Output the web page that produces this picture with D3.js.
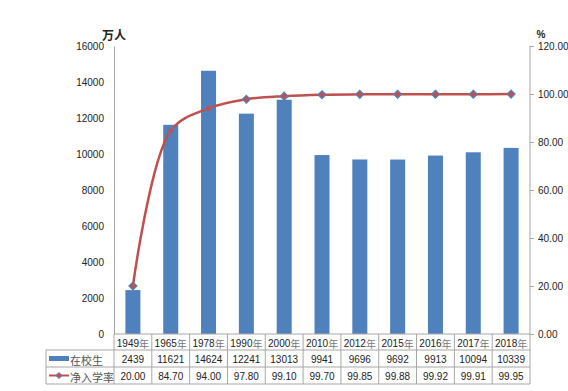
<!DOCTYPE html>
<html><head><meta charset="utf-8">
<script src="https://cdn.jsdelivr.net/npm/d3@7"></script>
<style>body{margin:0;background:#fff}svg{display:block}</style>
</head><body>
<svg id="c" width="568" height="391"></svg>
<script>
const categories = ["1949年","1965年","1978年","1990年","2000年","2010年","2012年","2015年","2016年","2017年","2018年"];
const students = [2439,11621,14624,12241,13013,9941,9696,9692,9913,10094,10339];
const rates = [20.00,84.70,94.00,97.80,99.10,99.70,99.85,99.88,99.92,99.91,99.95];
const leftTicks = [0,2000,4000,6000,8000,10000,12000,14000,16000];
const rightTicks = [0,20,40,60,80,100,120];
const seriesNames = ["在校生","净入学率"];

const svg = d3.select("#c");
const L = 114, R = 530, T = 46, B = 334;
const numFont = "'Liberation Sans', Arial, sans-serif";
const cjkFont = "'Noto Sans CJK SC', sans-serif";
const x = d3.scaleBand().domain(categories).range([L, R]).paddingInner(0).paddingOuter(0);
const yL = d3.scaleLinear().domain([0,16000]).range([B, T]);
const yR = d3.scaleLinear().domain([0,120]).range([B, T]);
const blue = "#4F81BD", red = "#C0504D", grid = "#a6a6a6";

// bars
const bw = 15;
svg.append("g").selectAll("rect").data(students).join("rect")
  .attr("x", (d,i) => x(categories[i]) + x.bandwidth()/2 - bw/2)
  .attr("y", d => yL(d)).attr("width", bw).attr("height", d => B - yL(d))
  .attr("fill", blue);

// left axis
const gl = svg.append("g").attr("transform", `translate(${L},0)`)
  .call(d3.axisLeft(yL).tickValues(leftTicks).tickSize(0).tickPadding(10).tickFormat(d3.format("d")));
gl.select(".domain").attr("stroke", grid);
gl.selectAll("text").attr("font-family", numFont).attr("font-size", 10).attr("fill", "#222");

// right axis
const gr = svg.append("g").attr("transform", `translate(${R},0)`)
  .call(d3.axisRight(yR).tickValues(rightTicks).tickSize(4).tickPadding(4).tickFormat(d3.format(".2f")));
gr.select(".domain").attr("stroke", grid).attr("d", `M0,${T}V${B}`);
gr.selectAll("line").attr("stroke", grid);
gr.selectAll("text").attr("font-family", numFont).attr("font-size", 10).attr("fill", "#222");

// units
svg.append("text").attr("x", 114).attr("y", 40).attr("text-anchor", "middle")
  .attr("font-family", cjkFont).attr("font-size", 12).attr("font-weight", "bold").attr("fill", "#222").text("万人");
svg.append("text").attr("x", 541).attr("y", 38).attr("text-anchor", "middle")
  .attr("font-family", numFont).attr("font-size", 10).attr("font-weight", "bold").attr("fill", "#222").text("%");

// line
const cx = (i) => x(categories[i]) + x.bandwidth()/2;
const line = d3.line().x((d,i) => cx(i)).y(d => yR(d)).curve(d3.curveCatmullRom.alpha(0.5));
svg.append("path").datum(rates).attr("d", line).attr("fill", "none")
  .attr("stroke", red).attr("stroke-width", 2.5);
const diamond = d3.symbol().type(d3.symbolDiamond2).size(40);
svg.append("g").selectAll("path").data(rates).join("path")
  .attr("transform", (d,i) => `translate(${cx(i)},${yR(d)})`)
  .attr("d", diamond).attr("fill", red).attr("stroke", blue).attr("stroke-width", 1.2);

// table
const rowH = [B, 350, 367, 384];
const tableLeft = 46;
const tg = svg.append("g");
tg.append("line").attr("x1", L).attr("x2", R).attr("y1", rowH[0]).attr("y2", rowH[0]).attr("stroke", grid);
for (let k = 1; k < 4; k++) {
  tg.append("line").attr("x1", tableLeft).attr("x2", R).attr("y1", rowH[k]).attr("y2", rowH[k]).attr("stroke", grid);
}
tg.append("line").attr("x1", tableLeft).attr("x2", tableLeft).attr("y1", rowH[1]).attr("y2", rowH[3]).attr("stroke", grid);
categories.forEach((c, i) => {
  tg.append("line").attr("x1", x(c)).attr("x2", x(c)).attr("y1", rowH[0]).attr("y2", rowH[3]).attr("stroke", grid);
});
tg.append("line").attr("x1", R).attr("x2", R).attr("y1", rowH[0]).attr("y2", rowH[3]).attr("stroke", grid);

const cellText = (g, xx, yy, t, font) => g.append("text").attr("x", xx).attr("y", yy)
  .attr("text-anchor", "middle").attr("dominant-baseline", "central")
  .attr("font-family", font).attr("font-size", 10).attr("fill", "#222").text(t);

categories.forEach((c, i) => {
  const t = tg.append("text").attr("x", cx(i)).attr("y", (rowH[0]+rowH[1])/2 + 1)
    .attr("text-anchor", "middle").attr("dominant-baseline", "central").attr("font-size", 10).attr("fill", "#222");
  t.append("tspan").attr("font-family", numFont).text(c.slice(0,4));
  t.append("tspan").attr("font-family", cjkFont).attr("fill", "#777").attr("font-size", 10).text(c.slice(4));
  cellText(tg, cx(i), (rowH[1]+rowH[2])/2 + 1, students[i], numFont);
  cellText(tg, cx(i), (rowH[2]+rowH[3])/2 + 1, d3.format(".2f")(rates[i]), numFont);
});

// legend keys
const y1 = (rowH[1]+rowH[2])/2, y2 = (rowH[2]+rowH[3])/2;
tg.append("rect").attr("x", 49).attr("y", y1 - 2.5).attr("width", 20).attr("height", 5).attr("fill", blue);
tg.append("line").attr("x1", 49).attr("x2", 69).attr("y1", y2).attr("y2", y2).attr("stroke", red).attr("stroke-width", 2);
tg.append("path").attr("transform", `translate(59,${y2})`).attr("d", d3.symbol().type(d3.symbolDiamond2).size(24))
  .attr("fill", red).attr("stroke", blue).attr("stroke-width", 1);
tg.append("text").attr("x", 70).attr("y", y1 + 1).attr("dominant-baseline", "central")
  .attr("font-family", cjkFont).attr("font-size", 11).attr("fill", "#555").text(seriesNames[0]);
tg.append("text").attr("x", 70).attr("y", y2 + 1).attr("dominant-baseline", "central")
  .attr("font-family", cjkFont).attr("font-size", 11).attr("fill", "#555").text(seriesNames[1]);
</script>
</body></html>
